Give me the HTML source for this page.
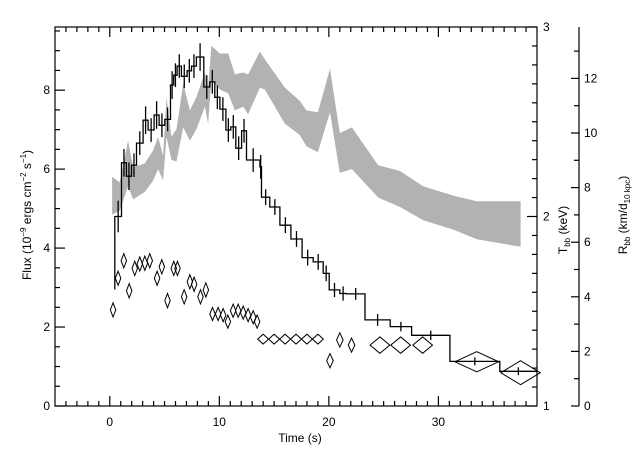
<!DOCTYPE html>
<html><head><meta charset="utf-8"><style>
html,body{margin:0;padding:0;background:#fff;}
svg{display:block;font-family:"Liberation Sans",sans-serif;}
</style></head><body>
<svg id="chart" width="640" height="457" viewBox="0 0 640 457" xmlns="http://www.w3.org/2000/svg">
<rect x="0" y="0" width="640" height="457" fill="#fff"/>
<g id="band"></g>
<g id="flux"></g>
<g id="diam"></g>
<g id="axes"></g>
<text x="300" y="442" font-size="12" text-anchor="middle">Time (s)</text>
<text transform="translate(31,215) rotate(-90)" font-size="12" text-anchor="middle">Flux (10<tspan dy="-5" font-size="8">−9</tspan><tspan dy="5"> ergs cm</tspan><tspan dy="-5" font-size="8">−2</tspan><tspan dy="5"> s</tspan><tspan dy="-5" font-size="8">−1</tspan><tspan dy="5">)</tspan></text>
<text transform="translate(567,230) rotate(-90)" font-size="12" text-anchor="middle">T<tspan dy="3" font-size="8">bb</tspan><tspan dy="-3"> (keV)</tspan></text>
<text transform="translate(627,215) rotate(-90)" font-size="12" text-anchor="middle">R<tspan dy="3" font-size="8">bb</tspan><tspan dy="-3"> (km/d</tspan><tspan dy="3" font-size="8">10 kpc</tspan><tspan dy="-3">)</tspan></text>
</svg>
<script>
// flux histogram data
const fluxEdges=[0.46,1.07,1.52,1.98,2.44,3.04,3.5,4.05,4.5,5.02,5.54,5.84,6.15,6.54,7.06,7.46,7.91,8.58,9.13,9.59,10.05,10.6,11.05,11.5,12.03,12.48,13.7,13.85,14.61,15.53,16.53,17.56,18.57,19.48,20.03,21.0,21.6,23.3,25.6,27.55,31.05,35.6,39];
const fluxValues=[4.8,6.16,5.82,6.1,6.66,7.24,6.99,7.37,7.11,7.26,8.13,8.38,8.61,8.35,8.49,8.61,8.84,8.08,8.21,7.82,7.52,6.99,7.07,6.53,6.97,6.23,6.06,5.29,5.04,4.58,4.23,3.76,3.65,3.36,2.94,2.85,2.84,2.18,2.01,1.79,1.13,0.88];
const fluxErrors=[0.4,0.35,0.35,0.3,0.3,0.35,0.3,0.35,0.3,0.3,0.35,0.3,0.3,0.3,0.3,0.3,0.35,0.3,0.3,0.3,0.3,0.3,0.3,0.3,0.3,0.3,0.3,0.2,0.2,0.2,0.2,0.2,0.2,0.2,0.18,0.18,0.15,0.15,0.12,0.12,0.1,0.1];
// temperature band (keV)
const bandTimes=[0.21,0.91,1.67,2.13,3.2,3.96,4.41,4.87,5.18,5.63,6.09,6.7,7.31,7.91,8.68,8.98,9.28,10.05,10.81,11.42,12.18,12.63,13.7,14.15,15.98,17.35,17.96,19.0,20.1,21.0,22.1,24.5,26.5,28.6,31.4,33.5,37.5];
const bandHigh=[2.21,2.18,2.40,2.26,2.28,2.35,2.42,2.32,2.63,2.42,2.46,2.70,2.56,2.63,2.76,2.68,2.90,2.86,2.86,2.75,2.76,2.75,2.87,2.83,2.68,2.61,2.56,2.55,2.78,2.44,2.47,2.27,2.24,2.16,2.11,2.08,2.08];
const bandLow=[2.01,2.03,2.16,2.09,2.13,2.19,2.25,2.19,2.42,2.30,2.29,2.47,2.40,2.46,2.58,2.49,2.72,2.67,2.65,2.56,2.58,2.54,2.68,2.67,2.49,2.43,2.37,2.34,2.55,2.23,2.25,2.10,2.05,1.98,1.93,1.88,1.84];
// radius diamonds (km/d10kpc)
const radTimes=[0.30,0.76,1.28,1.77,2.28,2.74,3.20,3.65,4.32,4.75,5.27,5.84,6.18,6.79,7.31,7.70,8.28,8.77,9.38,9.89,10.35,10.78,11.26,11.72,12.18,12.63,13.09,13.45,14.0,15.0,16.0,17.0,18.0,19.0,20.1,21.0,22.07,24.66,26.55,28.56,33.5,37.5];
const radValues=[3.52,4.68,5.32,4.22,5.04,5.20,5.23,5.32,4.68,5.10,3.86,5.04,5.04,4.00,4.55,4.46,4.00,4.25,3.37,3.37,3.33,3.09,3.49,3.49,3.42,3.33,3.25,3.09,2.45,2.45,2.45,2.45,2.45,2.45,1.66,2.42,2.23,2.23,2.23,2.23,1.62,1.22];
const radTimeHalf=[0.25,0.25,0.25,0.25,0.25,0.25,0.25,0.25,0.25,0.25,0.25,0.25,0.25,0.25,0.25,0.25,0.25,0.25,0.25,0.25,0.25,0.25,0.25,0.25,0.25,0.25,0.25,0.25,0.5,0.5,0.5,0.5,0.5,0.5,0.3,0.3,0.3,0.9,0.9,0.9,2.0,1.8];
const radErrors=[0.26,0.26,0.26,0.26,0.26,0.26,0.26,0.26,0.26,0.26,0.26,0.26,0.26,0.26,0.26,0.26,0.26,0.26,0.24,0.24,0.24,0.24,0.24,0.24,0.24,0.24,0.24,0.24,0.18,0.18,0.18,0.18,0.18,0.18,0.26,0.26,0.26,0.3,0.3,0.3,0.37,0.44];
const xTickLabels=["0","10","20","30"];
const fluxTickLabels=["0","2","4","6","8"];
const tempTickLabels=["1","2","3"];
const radTickLabels=["0","2","4","6","8","10","12"];

const NS="http://www.w3.org/2000/svg";
const L=55,R=537,T=27,B=406;
const xS=t=>L+(t+5)*(R-L)/44;
const yF=f=>B-f*(B-T)/9.6;
const yT=k=>B-(k-1)*(B-T)/2;
const yR=r=>B-r*27.3;
function mk(tag,parent){const e=document.createElementNS(NS,tag);parent.appendChild(e);return e;}

// band
const band=document.getElementById('band');
let d='';
bandTimes.forEach((t,i)=>{d+=(i?'L':'M')+xS(t).toFixed(1)+','+yT(bandHigh[i]).toFixed(1);});
for(let i=bandTimes.length-1;i>=0;i--){d+='L'+xS(bandTimes[i]).toFixed(1)+','+yT(bandLow[i]).toFixed(1);}
const bp=mk('path',band);


bp.setAttribute('d',d+'Z');bp.setAttribute('fill','#b2b2b2');

// flux histogram
const flux=document.getElementById('flux');
let h='M'+xS(fluxEdges[0]).toFixed(1)+','+yF(2.95).toFixed(1);
fluxValues.forEach((v,i)=>{h+='L'+xS(fluxEdges[i]).toFixed(1)+','+yF(v).toFixed(1)+'L'+xS(fluxEdges[i+1]).toFixed(1)+','+yF(v).toFixed(1);});
const hp=mk('path',flux);


hp.setAttribute('d',h);hp.setAttribute('fill','none');hp.setAttribute('stroke','#000');hp.setAttribute('stroke-width','1.3');
fluxValues.forEach((v,i)=>{
  const cx=xS((fluxEdges[i]+fluxEdges[i+1])/2);
  const e=mk('line',flux);
  
  
  e.setAttribute('x1',cx);e.setAttribute('x2',cx);
  e.setAttribute('y1',yF(v+fluxErrors[i]));e.setAttribute('y2',yF(v-fluxErrors[i]));
  e.setAttribute('stroke','#000');e.setAttribute('stroke-width','1.3');
});

// diamonds
const diam=document.getElementById('diam');
radTimes.forEach((t,i)=>{
  const cx=xS(t),cy=yR(radValues[i]);
  const dx=xS(t+radTimeHalf[i])-cx, dy=cy-yR(radValues[i]+radErrors[i]);
  const p=mk('polygon',diam);
  
  
  p.setAttribute('points',`${cx-dx},${cy} ${cx},${cy-dy} ${cx+dx},${cy} ${cx},${cy+dy}`);
  p.setAttribute('fill','none');p.setAttribute('stroke','#000');p.setAttribute('stroke-width','1');
});

// axes
const ax=document.getElementById('axes');
function line(x1,y1,x2,y2,name){const l=mk('line',ax);
  
  
  l.setAttribute('x1',x1);l.setAttribute('y1',y1);l.setAttribute('x2',x2);l.setAttribute('y2',y2);l.setAttribute('stroke','#000');l.setAttribute('stroke-width','1.2');}
function txt(x,y,s,anchor,name){const t=mk('text',ax);
  
  
  t.setAttribute('x',x);t.setAttribute('y',y);t.setAttribute('font-size','12');t.setAttribute('text-anchor',anchor);t.textContent=s;}
const fr=mk('rect',ax);


fr.setAttribute('x',L);fr.setAttribute('y',T);fr.setAttribute('width',R-L);fr.setAttribute('height',B-T);fr.setAttribute('fill','none');fr.setAttribute('stroke','#000');fr.setAttribute('stroke-width','1.2');
for(let t=-4;t<=38;t++){const x=xS(t);const len=(t%10===0)?10:5;
  line(x,B,x,B-len,'x-tick');line(x,T,x,T+len,'x-tick-top');}
xTickLabels.forEach(s=>txt(xS(+s),426,s,'middle','x-tick-label'));
for(let f=0;f<=9.5;f+=0.5){const y=yF(f);const len=(Math.abs(f%2)<0.01)?10:5;line(L,y,L+len,y,'flux-tick');}
fluxTickLabels.forEach(s=>txt(L-5,yF(+s)+4,s,'end','flux-tick-label'));
for(let k=10;k<=30;k++){const y=yT(k/10);const len=(k%10===0)?10:5;line(R,y,R-len,y,'temp-tick');}
tempTickLabels.forEach(s=>txt(R+6,yT(+s)+4,s,'start','temp-tick-label'));
line(579,T,579,B,'radius-axis-line');
for(let r=0;r<=13;r++){const y=yR(r);const len=(r%2===0)?8:5;line(579-len,y,579,y,'radius-tick');}
radTickLabels.forEach(s=>txt(584,yR(+s)+4,s,'start','radius-tick-label'));
</script>
</body></html>
